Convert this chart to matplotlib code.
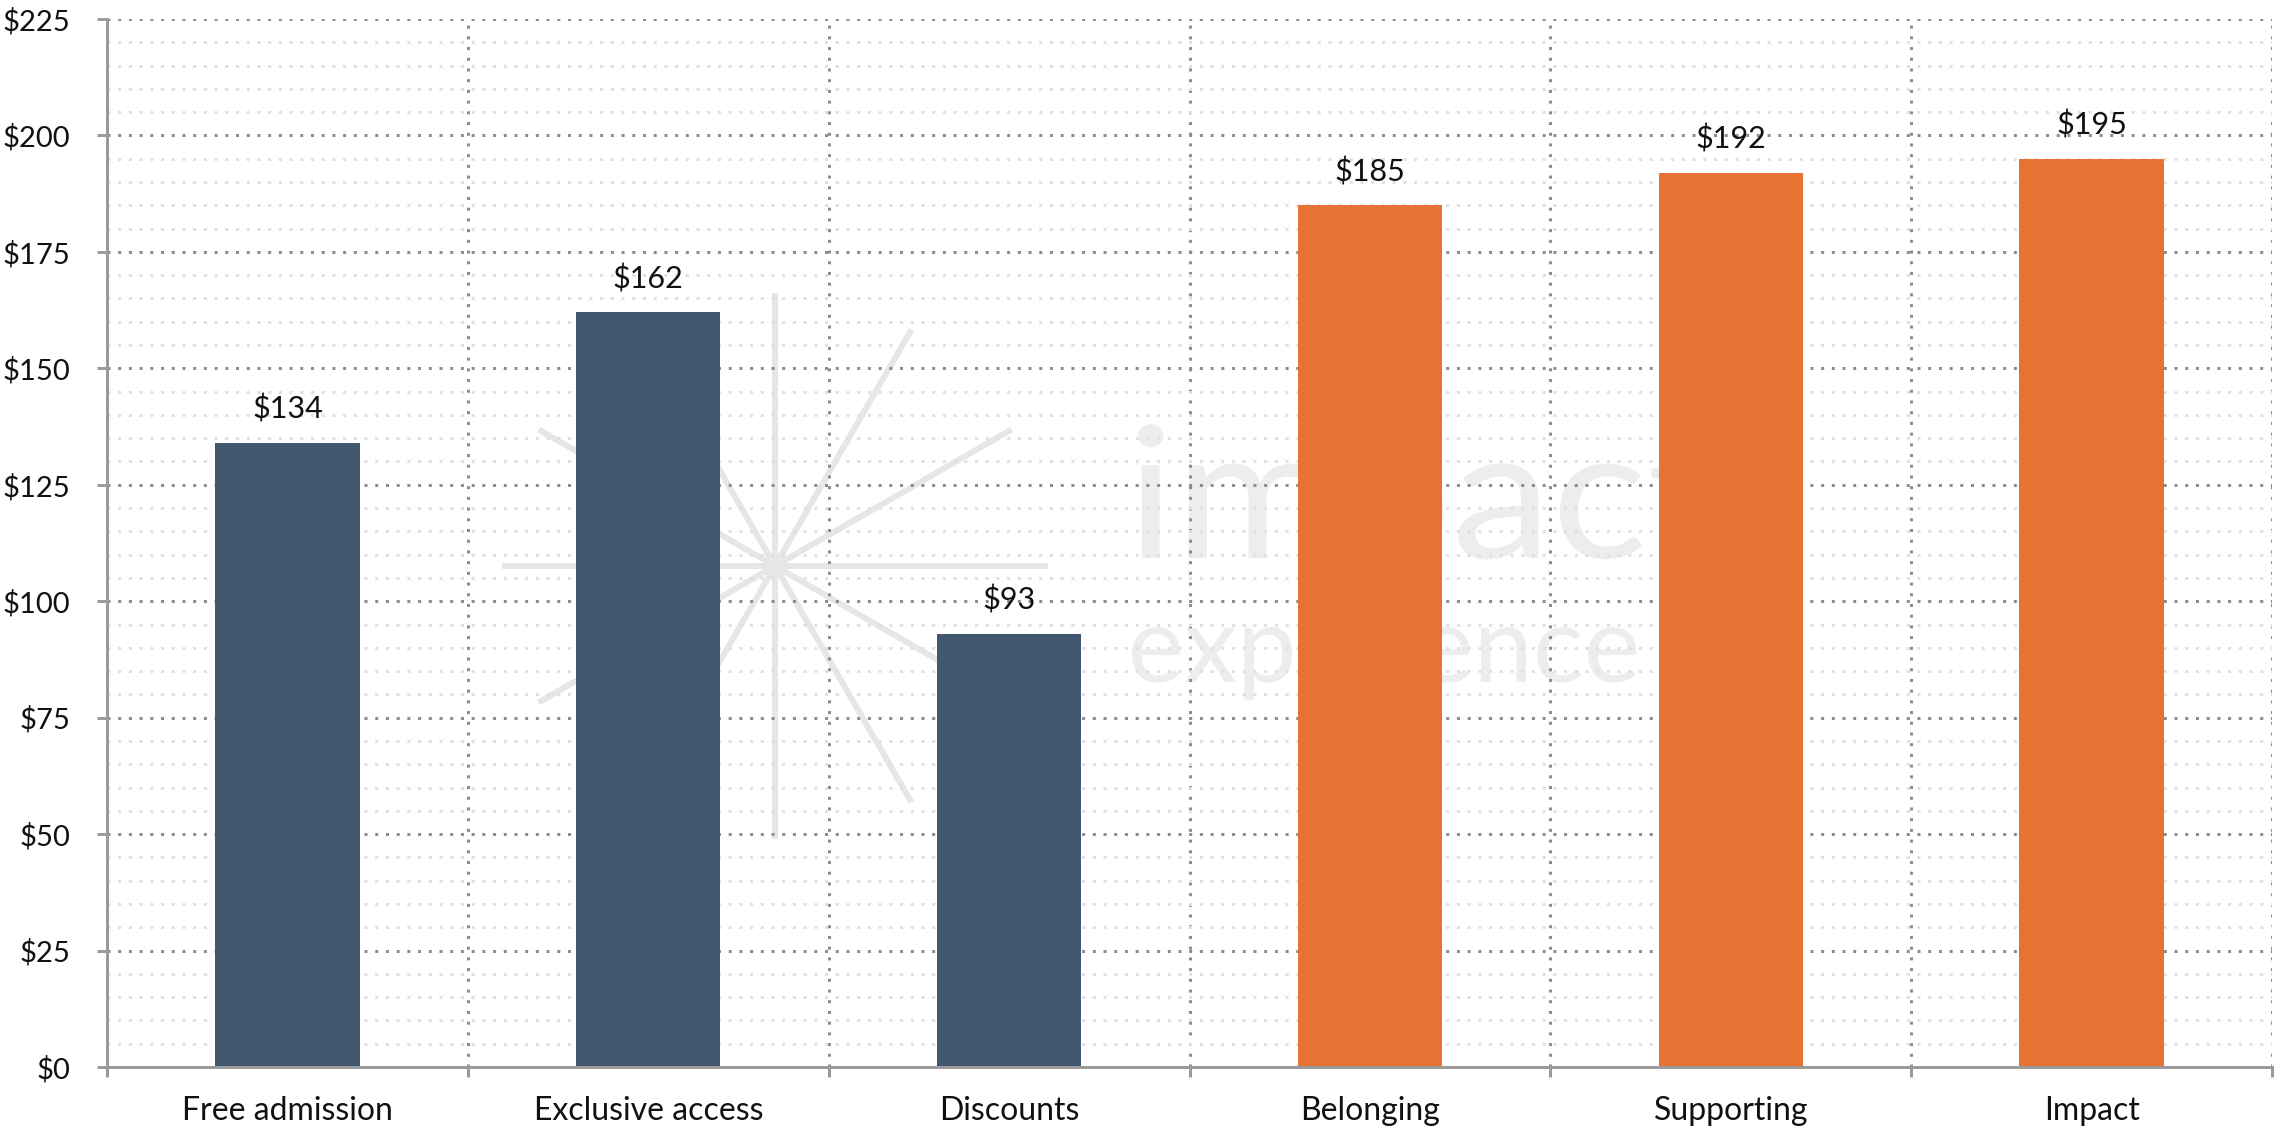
import matplotlib
matplotlib.use("Agg")
import matplotlib.pyplot as plt
from matplotlib.lines import Line2D
from matplotlib.patches import PathPatch
from matplotlib.textpath import TextPath
from matplotlib.font_manager import FontProperties
from matplotlib.transforms import Affine2D
from matplotlib.ticker import FixedLocator, MultipleLocator, FuncFormatter
import numpy as np

# ---- data -------------------------------------------------------------
categories = ["Free admission", "Exclusive access", "Discounts",
              "Belonging", "Supporting", "Impact"]
values = [134, 162, 93, 185, 192, 195]
bar_colors = ["#42586f", "#42586f", "#42586f",
              "#e87134", "#e87134", "#e87134"]
y_ticks = [0, 25, 50, 75, 100, 125, 150, 175, 200, 225]

# ---- style ------------------------------------------------------------
plt.rcParams["font.family"] = ["Lato", "DejaVu Sans"]
W, H, DPI = 2280, 1129, 100
PX = 72.0 / DPI  # points per pixel

AXIS_GREY = "#9a9a9a"
MAJOR_DOT = "#8c8c8c"
MINOR_DOT = "#e0e0e0"
WATERMARK = "#ededed"

fig = plt.figure(figsize=(W / DPI, H / DPI), dpi=DPI)
ax = fig.add_axes([107 / W, 1 - 1067 / H, (2272 - 107) / W, (1067 - 19) / H])

# ---- watermark logo (starburst + wordmark), in figure pixels -----------
cx, cy, r = 775, 566, 273
for ang in np.deg2rad([0, 30, 60, 90, 120, 150]):
    dx, dy = r * np.cos(ang), r * np.sin(ang)
    ax.add_artist(Line2D([(cx - dx) / W, (cx + dx) / W],
                         [1 - (cy + dy) / H, 1 - (cy - dy) / H],
                         transform=fig.transFigure, color="#e6e6e6",
                         lw=6 * PX, solid_capstyle="butt", zorder=0.2))

wm_font = FontProperties(family="Lato")
x_height = TextPath((0, 0), "x", size=100, prop=wm_font).get_extents().height


def wordmark(word, span_word, left, right, baseline, xh):
    """Draw a word so that span_word covers left..right and x-height is xh px."""
    path = TextPath((0, 0), word, size=100, prop=wm_font)
    span = TextPath((0, 0), span_word, size=100, prop=wm_font).get_extents()
    sx = (right - left) / span.width
    sy = xh / x_height
    tr = (Affine2D().scale(sx, sy)
          .translate(left - span.x0 * sx, H - baseline)
          .scale(1.0 / W, 1.0 / H) + fig.transFigure)
    ax.add_artist(PathPatch(path, transform=tr, facecolor=WATERMARK,
                            edgecolor="none", zorder=0.2))


wordmark("impact", "impac", 1138, 1642, 558, 93)
wordmark("experience", "experience", 1132, 1636, 682, 54)

# ---- bars -------------------------------------------------------------
x = np.arange(len(categories))
ax.bar(x, values, width=0.4, color=bar_colors, zorder=1)
for xi, v in zip(x, values):
    ax.annotate(f"${v}", (xi, v), xytext=(0, 17.5), textcoords="offset points",
                ha="center", va="baseline", fontsize=22, color="#111111")

# ---- axes -------------------------------------------------------------
ax.set_xlim(-0.5, len(categories) - 0.5)
ax.set_ylim(0, 225)
ax.set_axisbelow(True)

ax.set_xticks(x)
ax.set_xticklabels(categories)
ax.xaxis.set_minor_locator(FixedLocator(np.arange(-0.5, len(categories), 1.0)))
ax.yaxis.set_major_locator(FixedLocator(y_ticks))
ax.yaxis.set_minor_locator(MultipleLocator(5))
ax.yaxis.set_major_formatter(FuncFormatter(lambda v, _: f"${v:.0f}"))

ax.tick_params(axis="x", which="major", length=0, pad=21, labelsize=23,
               labelcolor="#111111")
ax.tick_params(axis="x", which="minor", length=10 * PX, width=3 * PX,
               color=AXIS_GREY, direction="out")
ax.tick_params(axis="y", which="major", length=10 * PX, width=3 * PX,
               color=AXIS_GREY, pad=19, labelsize=21, labelcolor="#111111")
ax.tick_params(axis="y", which="minor", length=0)

dot = 3 * PX
dotted = (0, (1, 2.57))
ax.grid(axis="y", which="major", color=MAJOR_DOT, lw=dot, linestyle=dotted)
ax.grid(axis="y", which="minor", color=MINOR_DOT, lw=dot, linestyle=dotted)
ax.grid(axis="x", which="minor", color=MAJOR_DOT, lw=dot, linestyle=dotted)
ax.grid(axis="x", which="major", visible=False)

for side in ("top", "right"):
    ax.spines[side].set_visible(False)
for side in ("left", "bottom"):
    ax.spines[side].set_color(AXIS_GREY)
    ax.spines[side].set_linewidth(3 * PX)

fig.savefig("out.png", dpi=DPI, facecolor="white")
